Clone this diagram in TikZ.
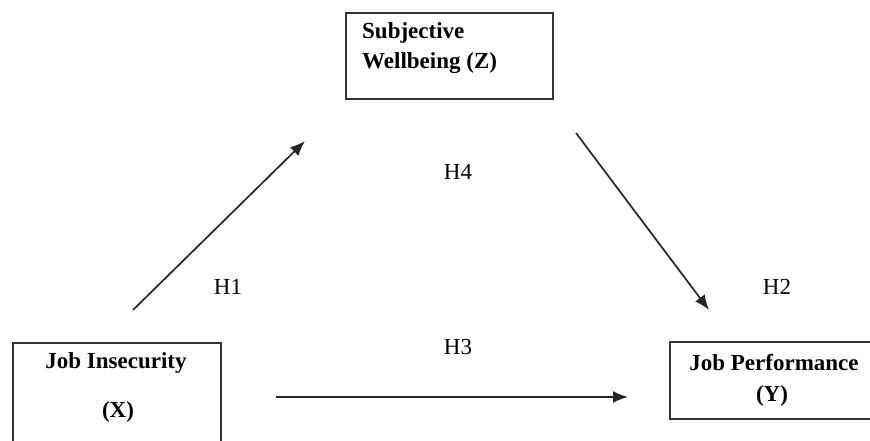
\documentclass[tikz,border=0pt]{standalone}
\usepackage{fontspec}
\setmainfont{Liberation Serif}
\usetikzlibrary{arrows.meta}
\begin{document}
\begin{tikzpicture}[x=1pt,y=-1pt,
  boxstyle/.style={draw=black!80, line width=1.8pt, inner sep=0pt},
  btext/.style={font=\fontsize{23}{30}\selectfont\bfseries, inner sep=0pt},
  hlabel/.style={font=\fontsize{23}{28}\selectfont, inner sep=0pt},
  arr/.style={draw=black!85, line width=1.7pt, -{Latex[length=15pt,width=12pt]}}]
\useasboundingbox (0,0) rectangle (870,441);
\begin{scope}
\clip (0,0) rectangle (870,441);
% boxes
\node[boxstyle, minimum width=207pt, minimum height=86pt, anchor=north west] (zbox) at (345,12) {};
\node[boxstyle, minimum width=208pt, minimum height=140pt, anchor=north west] (xbox) at (12,342) {};
\node[boxstyle, minimum width=230pt, minimum height=77pt, anchor=north west] (ybox) at (669,341) {};
\end{scope}
% texts
\node[btext, align=left, anchor=west] (zt) at (362,48) {Subjective\\Wellbeing (Z)};
\node[btext] (xt1) at (116,363) {Job Insecurity};
\node[btext] (xt2) at (118,412) {(X)};
\node[btext] (yt1) at (774,363) {Job Performance};
\node[btext] (yt2) at (772,396) {(Y)};
% arrow end points
\coordinate (a1s) at (133,310);
\coordinate (a1e) at (305,141);
\coordinate (a2s) at (576,133);
\coordinate (a2e) at (709,310);
\coordinate (a3s) at (276,397);
\coordinate (a3e) at (628,397);
\draw[arr] (a1s) -- (a1e);
\draw[arr] (a2s) -- (a2e);
\draw[arr] (a3s) -- (a3e);
% labels
\node[hlabel] (h1) at (228,287) {H1};
\node[hlabel] (h4) at (458,172) {H4};
\node[hlabel] (h2) at (777,287) {H2};
\node[hlabel] (h3) at (458,347) {H3};
\end{tikzpicture}
\end{document}
